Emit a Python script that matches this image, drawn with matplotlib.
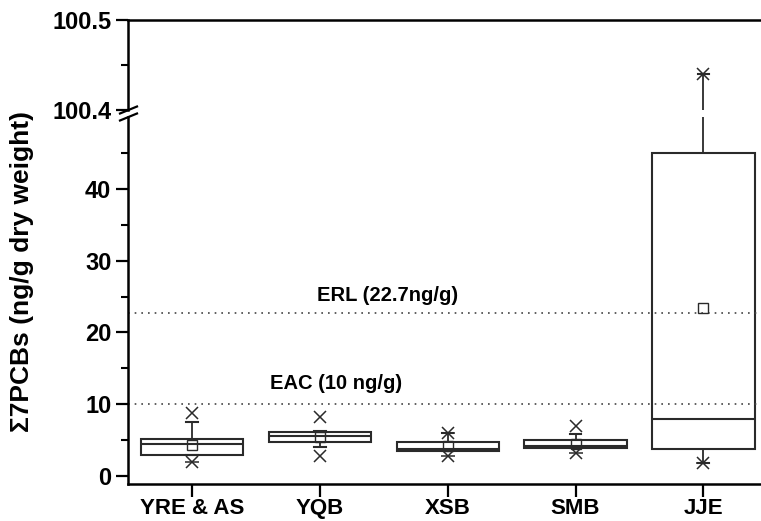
import numpy as np
import matplotlib
matplotlib.use('Agg')
import matplotlib.pyplot as plt
from matplotlib.lines import Line2D

plt.rcParams['font.family'] = ['Liberation Sans', 'DejaVu Sans']
plt.rcParams['font.weight'] = 'bold'

# Datos
sitios = ['YRE & AS', 'YQB', 'XSB', 'SMB', 'JJE']
q1 = [3.0, 4.7, 3.5, 3.9, 3.8]
mediana = [4.4, 5.65, 3.75, 4.25, 8.0]
q3 = [5.1, 6.1, 4.77, 5.0, 45.0]
bigote_bajo = [3.0, 4.05, 3.5, 3.9, 1.8]
bigote_alto = [7.6, 6.25, 6.0, 5.8, 100.44]
media = [4.3, 5.45, 4.2, 4.5, 23.4]
p99 = [8.75, 8.2, 6.0, 7.0, 100.44]
p1 = [2.0, 2.75, 2.8, 3.2, 1.8]
minimos = [2.0, None, 2.8, 3.2, 1.8]
maximos = [None, None, 6.0, None, None]

erl = 22.7
eac = 10

W, H = 761, 521
fig = plt.figure(figsize=(W / 100, H / 100), dpi=100)

izq = 128 / W
ax_up = fig.add_axes([izq, 1 - 110 / H, 1 - izq, 90 / H])
ax = fig.add_axes([izq, 1 - 484 / H, 1 - izq, 367 / H])

pos = np.arange(1, len(sitios) + 1)
stats = []
for i in range(len(sitios)):
    stats.append(dict(q1=q1[i], med=mediana[i], q3=q3[i],
                      whislo=bigote_bajo[i], whishi=bigote_alto[i],
                      mean=media[i], fliers=[]))

col = '#2a2a2a'
for a in (ax, ax_up):
    a.bxp(stats, positions=pos, widths=0.8, patch_artist=True,
          showmeans=True, capwidths=0.09,
          boxprops=dict(facecolor='white', edgecolor=col, linewidth=1.5),
          medianprops=dict(color=col, linewidth=1.5),
          whiskerprops=dict(color=col, linewidth=1.3),
          capprops=dict(color=col, linewidth=1.5),
          meanprops=dict(marker='s', markerfacecolor='none',
                         markeredgecolor=col, markersize=6.5,
                         markeredgewidth=1.0))
    a.plot(pos, p99, 'x', color=col, markersize=8, mew=1.1, clip_on=False)
    a.plot(pos, p1, 'x', color=col, markersize=8, mew=1.1, clip_on=False)
    for lista in (minimos, maximos):
        xs = [p for p, v in zip(pos, lista) if v is not None]
        ys = [v for v in lista if v is not None]
        a.plot(xs, ys, '_', color=col, markersize=10, mew=1.1)
    a.set_xlim(0.5, 5.45)

# lineas de referencia
ax.axhline(erl, color='#444444', linestyle=(0, (1, 3)), linewidth=1.2)
ax.axhline(eac, color='#444444', linestyle=(0, (1, 3)), linewidth=1.2)
ax.text(2.53, 25.2, 'ERL (22.7ng/g)', ha='center', va='center',
        fontsize=14.5, fontweight='bold')
ax.text(2.13, 12.96, 'EAC (10 ng/g)', ha='center', va='center',
        fontsize=14.5, fontweight='bold')

# eje inferior
ax.set_ylim(-1.1, 50)
ax.set_yticks([0, 10, 20, 30, 40])
ax.set_yticks([5, 15, 25, 35, 45], minor=True)
ax.set_xticks(pos)
ax.set_xticklabels(sitios)
ax.spines['top'].set_visible(False)
ax.spines['right'].set_visible(False)

# eje superior
ax_up.set_ylim(100.4, 100.5)
ax_up.set_yticks([100.4, 100.5])
ax_up.set_yticklabels(['100.4', '100.5'])
ax_up.set_yticks([100.45], minor=True)
ax_up.set_xticks([])
ax_up.spines['bottom'].set_visible(False)
ax_up.spines['right'].set_visible(False)

for a in (ax, ax_up):
    for s in ('left', 'bottom', 'top'):
        a.spines[s].set_linewidth(1.8)
    a.tick_params(axis='both', which='major', direction='out', length=9,
                  width=1.6, labelsize=17, pad=3)
    a.tick_params(axis='y', which='minor', direction='out', length=5,
                  width=1.5)
    a.set_facecolor('none')
    for t in a.get_yticklabels() + a.get_xticklabels():
        t.set_fontweight('bold')
ax.tick_params(axis='x', which='major', labelsize=16, pad=1)

# marca de corte del eje
for y0 in (113.5, 120.5):
    fig.add_artist(Line2D([120 / W, 137 / W],
                          [1 - y0 / H, 1 - (y0 - 7) / H],
                          color='black', linewidth=1.6))

fig.text(22 / W, 1 - 272 / H, 'Σ7PCBs (ng/g dry weight)', rotation=90,
         ha='center', va='center', fontsize=19, fontweight='bold')

fig.savefig('out.png', dpi=100)
